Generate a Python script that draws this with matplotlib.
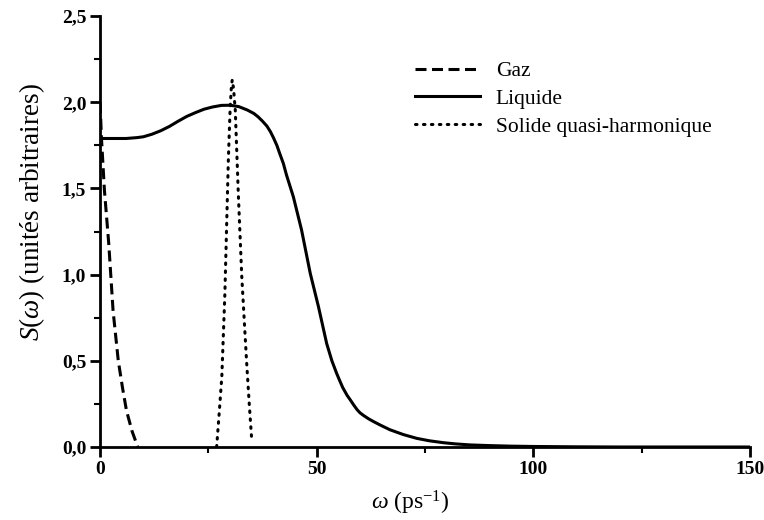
import matplotlib
matplotlib.use("Agg")
import matplotlib.pyplot as plt
from matplotlib.ticker import MultipleLocator, FuncFormatter

# Data
gaz_x = [0.0, 0.3, 1.0, 2.0, 3.0, 4.2, 5.2, 6.1, 7.4, 8.7]
gaz_y = [2.00, 1.80, 1.49, 1.18, 0.79, 0.50, 0.34, 0.21, 0.09, 0.00]

liq_x = [0.0, 2.0, 4.0, 6.0, 8.5, 10.0, 12.0, 14.0, 16.0, 18.0, 20.0, 22.0, 24.0, 26.0,
         28.0, 30.0, 32.0, 34.0, 35.5, 36.5, 37.5, 38.5, 39.3, 40.0, 40.8, 41.5, 42.3, 43.0,
         44.6, 46.5, 48.5, 50.4, 52.3, 53.5, 54.6, 55.3, 56.0, 57.0, 57.7, 58.5, 59.3, 60.0,
         60.8, 62.0, 63.3, 64.6, 66.9, 70.0, 73.1, 76.0, 79.2, 82.0, 85.4, 90.0, 94.6, 100.0,
         110.0, 120.0, 150.0]
liq_y = [1.79, 1.79, 1.79, 1.79, 1.795, 1.80, 1.815, 1.835, 1.86, 1.89, 1.918, 1.94, 1.96, 1.973,
         1.982, 1.983, 1.975, 1.955, 1.935, 1.915, 1.89, 1.862, 1.83, 1.795, 1.75, 1.70, 1.645, 1.58,
         1.452, 1.259, 1.008, 0.814, 0.60, 0.50, 0.427, 0.385, 0.345, 0.30, 0.275, 0.245, 0.217, 0.198,
         0.183, 0.163, 0.145, 0.128, 0.10, 0.072, 0.05, 0.036, 0.025, 0.018, 0.012, 0.008, 0.005, 0.003,
         0.001, 0.0, 0.0]

sol_x = [26.9, 27.5, 28.1, 28.8, 29.2, 29.6, 30.0, 30.3, 30.5, 30.8, 31.2, 31.9, 32.7, 33.8, 34.4, 35.0]
sol_y = [0.00, 0.20, 0.41, 0.89, 1.278, 1.665, 1.955, 2.09, 2.13, 2.08, 1.955, 1.47, 0.99, 0.50, 0.26, 0.04]

labels = ["Gaz", "Liquide", "Solide quasi-harmonique"]

plt.rcParams['font.family'] = ['Liberation Serif', 'DejaVu Serif']
plt.rcParams['mathtext.fontset'] = 'custom'
plt.rcParams['mathtext.rm'] = 'Liberation Serif'
plt.rcParams['mathtext.it'] = 'Liberation Serif:italic'

fig = plt.figure(figsize=(7.64, 5.2), dpi=100)
ax = fig.add_axes([0.131, 0.1404, 0.8507, 0.8286])

ax.plot(gaz_x, gaz_y, color='black', lw=2.2, ls=(0, (3.6, 1.8)), label=labels[0])
ax.plot(liq_x, liq_y, color='black', lw=2.2, ls='-', label=labels[1])
ax.plot(sol_x, sol_y, color='black', lw=2.2, ls=(0, (0.5, 2.1)), dash_capstyle='round', label=labels[2])

ax.set_xlim(0, 150)
ax.set_ylim(0, 2.5)
for s in ['top', 'right']:
    ax.spines[s].set_visible(False)
for s in ['left', 'bottom']:
    ax.spines[s].set_linewidth(2.0)

ax.xaxis.set_major_locator(MultipleLocator(50))
ax.xaxis.set_minor_locator(MultipleLocator(25))
ax.yaxis.set_major_locator(MultipleLocator(0.5))
ax.yaxis.set_minor_locator(MultipleLocator(0.25))
ax.yaxis.set_major_formatter(FuncFormatter(lambda v, p: f"{v:.1f}".replace('.', ',')))
ax.xaxis.set_major_formatter(FuncFormatter(lambda v, p: f"{v:.0f}"))
ax.tick_params(which='major', direction='out', length=7, width=2, labelsize=14, pad=3)
ax.tick_params(which='minor', direction='out', length=4, width=1.5)
for t in ax.get_yticklabels() + ax.get_xticklabels():
    t.set_fontweight('bold')

ax.set_xlabel(r"$\mathit{\omega}$ (ps$^{\mathregular{-1}}$)", fontsize=17)
ax.set_ylabel(r"$\mathit{S}$($\mathit{\omega}$) (unités arbitraires)", fontsize=19.5)
ax.xaxis.set_label_coords(0.477, -0.098)
ax.yaxis.set_label_coords(-0.082, 0.545)

leg = ax.legend(loc='upper left', bbox_to_anchor=(0.455, 0.94), frameon=False,
                fontsize=15.5, handlelength=3.0, handletextpad=0.75, labelspacing=0.35)

fig.savefig("out.png", dpi=100)
